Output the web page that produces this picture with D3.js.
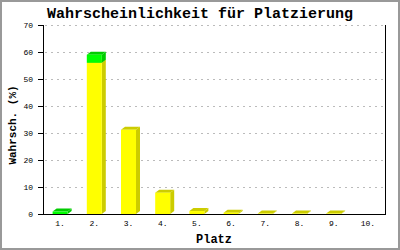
<!DOCTYPE html>
<html><head><meta charset="utf-8">
<script src="https://cdn.jsdelivr.net/npm/d3@7"></script>
<style>html,body{margin:0;padding:0;background:#fff;}svg{display:block;}</style>
</head><body>
<script>
const categories = ["1.","2.","3.","4.","5.","6.","7.","8.","9.","10."];
const yellowValues = [0, 56, 31.2, 7.9, 1.1, 0.5, 0.15, 0.15, 0.15, 0];
const greenValues  = [0.9, 3, 0, 0, 0, 0, 0, 0, 0, 0];
const yTicks = [0,10,20,30,40,50,60,70];

const W = 400, H = 250;
const m = {l:43, r:15, t:25, b:36};
const svg = d3.select("body").append("svg").attr("width",W).attr("height",H);
svg.append("rect").attr("x",1).attr("y",1).attr("width",W-2).attr("height",H-2)
  .attr("fill","#fff").attr("stroke","#999").attr("stroke-width",2);

const x = d3.scaleBand().domain(categories).range([m.l, W-m.r]);
const y = d3.scaleLinear().domain([0,70]).range([H-m.b, m.t]);
const font = "'Liberation Mono','DejaVu Sans Mono',monospace";

// grid
svg.append("g").selectAll("line").data(yTicks.filter(d=>d>0)).join("line")
  .attr("x1", m.l+2).attr("x2", W-m.r).attr("y1", d=>y(d)+0.5).attr("y2", d=>y(d)+0.5)
  .attr("stroke","#bbb").attr("stroke-dasharray","2,4");

// bars
const bw = 15, dx = 4, dy = 3;
const stacks = categories.map((c,i)=>[
  {c, y0:0, y1:yellowValues[i], front:"#ffff00", dark:"#cccc00"},
  {c, y0:yellowValues[i], y1:yellowValues[i]+greenValues[i], front:"#00ff00", dark:"#00cc00"}
]).flat().filter(d=>d.y1>d.y0);
const g = svg.append("g");
stacks.forEach(d=>{
  const x0 = x(d.c) + (x.bandwidth()-bw)/2, x1 = x0+bw;
  const yt = y(d.y1), yb = y(d.y0);
  g.append("polygon").attr("points",[[x1,yb],[x1+dx,yb-dy],[x1+dx,yt-dy],[x1,yt]].join(" "))
    .attr("fill",d.dark);
  g.append("polygon").attr("points",[[x0,yt],[x0+dx,yt-dy],[x1+dx,yt-dy],[x1,yt]].join(" "))
    .attr("fill",d.dark);
  g.append("rect").attr("x",x0).attr("y",yt).attr("width",bw).attr("height",Math.max(0,yb-yt))
    .attr("fill",d.front);
});

// axes lines
svg.append("line").attr("x1",m.l+0.5).attr("x2",m.l+0.5).attr("y1",m.t).attr("y2",H-m.b)
  .attr("stroke","#000");
svg.append("line").attr("x1",W-m.r+0.5).attr("x2",W-m.r+0.5).attr("y1",m.t).attr("y2",H-m.b)
  .attr("stroke","#000");
svg.append("line").attr("x1",m.l).attr("x2",W-m.r+1).attr("y1",H-m.b+0.5).attr("y2",H-m.b+0.5)
  .attr("stroke","#000");

// y ticks
const yt = svg.append("g");
yt.selectAll("line").data(yTicks).join("line")
  .attr("x1",m.l-5).attr("x2",m.l).attr("y1",d=>y(d)+0.5).attr("y2",d=>y(d)+0.5).attr("stroke","#000");
yt.selectAll("text").data(yTicks).join("text")
  .attr("x",m.l-10).attr("y",d=>y(d)+3).attr("text-anchor","end")
  .attr("font-family",font).attr("font-size",8).text(d=>d);

// x labels
svg.append("g").selectAll("text").data(categories).join("text")
  .attr("x",d=>x(d)+x.bandwidth()/2).attr("y",H-m.b+12).attr("text-anchor","middle")
  .attr("font-family",font).attr("font-size",8).text(d=>d);

// titles
svg.append("text").attr("x",200).attr("y",18).attr("text-anchor","middle")
  .attr("font-family",font).attr("font-weight","bold").attr("font-size",15)
  .text("Wahrscheinlichkeit für Platzierung");
svg.append("text").attr("x",(m.l+W-m.r)/2).attr("y",243).attr("text-anchor","middle")
  .attr("font-family",font).attr("font-weight","bold").attr("font-size",12).text("Platz");
svg.append("text").attr("transform","translate(16,125) rotate(-90)").attr("text-anchor","middle")
  .attr("font-family",font).attr("font-weight","bold").attr("font-size",11).text("Wahrsch. (%)");
</script>
</body></html>
